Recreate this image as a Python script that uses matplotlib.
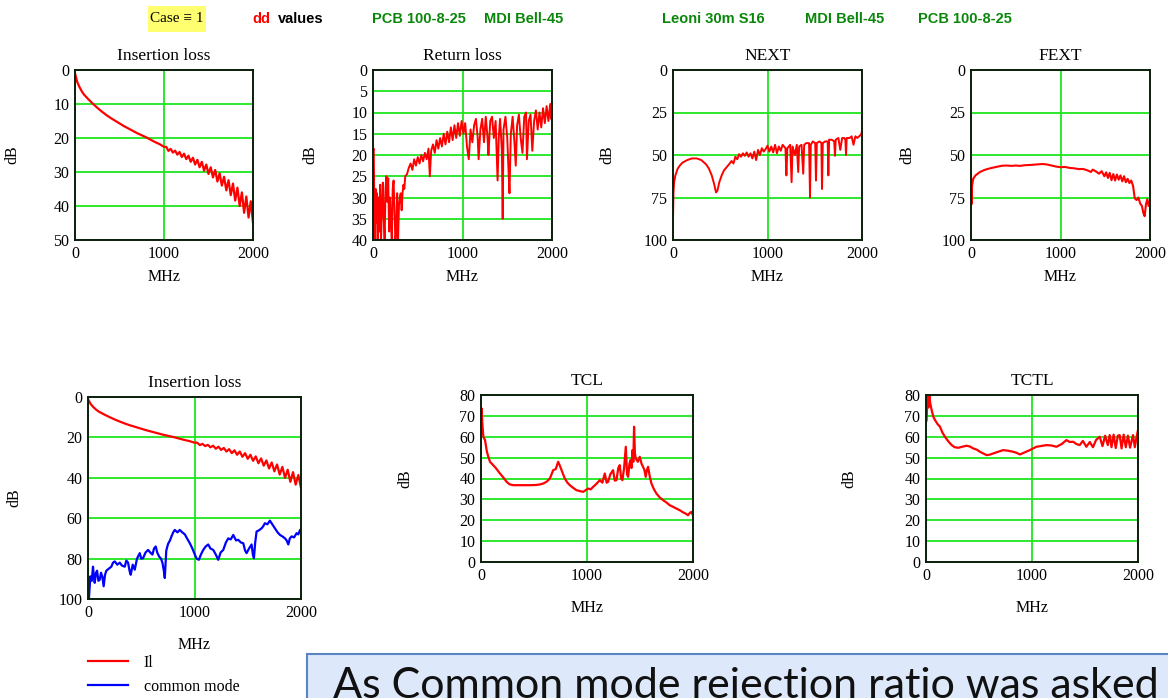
import matplotlib
matplotlib.use("Agg")
import matplotlib.pyplot as plt
from matplotlib.patches import Rectangle

plt.rcParams["font.family"] = ["Liberation Serif", "DejaVu Serif"]

# ---- data (MHz, dB) ----
il_mhz = [0, 25, 50, 75, 100, 150, 200, 250, 300, 350, 400, 450, 500, 550, 600, 650,
          700, 750, 800, 850, 900, 950, 1000,
          1025, 1050, 1075, 1100, 1125, 1150, 1175, 1200, 1225, 1250, 1275, 1300,
          1325, 1350, 1375, 1400, 1425, 1450, 1475, 1500, 1525, 1550, 1575, 1600,
          1625, 1650, 1675, 1700, 1725, 1750, 1775, 1800, 1825, 1850, 1875, 1900,
          1925, 1950, 1975, 2000]
il_db = [1.0, 3.5, 5.0, 6.2, 7.2, 8.6, 9.9, 11.1, 12.2, 13.2, 14.1, 14.9, 15.7, 16.5,
         17.2, 17.9, 18.6, 19.2, 19.8, 20.5, 21.2, 21.8, 22.6,
         22.6, 23.8, 23.2, 24.3, 23.7, 24.9, 24.1, 25.6, 24.6, 26.2, 25.2, 27.0,
         25.8, 27.8, 26.4, 28.6, 27.0, 29.6, 27.8, 30.6, 28.6, 31.6, 29.4, 32.8,
         30.4, 34.0, 31.4, 35.4, 32.4, 36.8, 33.4, 38.4, 34.6, 40.0, 36.0, 42.0,
         37.2, 43.4, 38.6, 45.0]

rl_mhz = [0, 8, 15, 22, 30, 38, 45, 52, 60, 70, 80, 90, 100, 110, 120, 130, 140, 150,
          160, 170, 180, 190, 200, 210, 220, 230, 240, 250, 260, 270, 280, 290, 300,
          310, 320, 330, 340, 350, 360, 380, 400, 420, 440, 460, 480, 500, 520, 540,
          560, 580, 600, 620, 635, 650, 670, 690, 710, 730, 750, 770, 790, 810, 830,
          850, 870, 890, 910, 930, 950, 970, 990, 1010, 1030, 1050, 1070, 1090, 1110,
          1130, 1150, 1170, 1180, 1200, 1220, 1240, 1260, 1280, 1290, 1310, 1330,
          1350, 1370, 1392, 1405, 1420, 1440, 1449, 1458, 1480, 1500, 1515, 1525,
          1540, 1560, 1580, 1595, 1610, 1630, 1650, 1670, 1690, 1710, 1720, 1740,
          1760, 1780, 1800, 1820, 1840, 1860, 1880, 1900, 1920, 1940, 1960, 1980,
          1990, 2000]
rl_db = [19, 18.5, 32, 40, 28, 36, 29, 40, 30, 38, 27, 40, 32, 26.5, 35, 40, 28, 25,
         31, 25.5, 38, 30, 36, 40, 28, 26, 33, 40, 38, 29, 40, 32, 30,
         29, 33, 29, 27, 28, 25, 24.5, 23, 22, 23.5, 21, 22.5, 20.5, 22, 20,
         21.5, 19.5, 21, 18.5, 25, 19, 17.5, 19.5, 16.5, 18.5, 16, 18, 15, 17.5, 14.5,
         17, 13.5, 16.5, 13, 16, 12.5, 15.5, 12, 15, 12.5, 18, 21, 14, 17,
         13, 11.5, 16, 21, 14, 11.5, 17, 11, 16, 20, 12, 11,
         16, 12, 26, 16, 11.5, 19, 35, 14, 11, 16, 24, 29,
         15, 11, 17, 22.5, 13, 10.5, 16, 19.5, 11, 10, 21, 12,
         10.5, 19, 12, 9.5, 14, 10, 13.5, 9, 12.5, 8.5, 12, 8,
         11.5, 7.5]

next_mhz = [0, 5, 12, 25, 50, 75, 100, 150, 200, 250, 300, 350, 380, 410, 435, 455,
            470, 490, 515, 540, 570, 600, 620, 640, 660, 680, 700, 720, 740, 760,
            780, 800, 820, 840, 860, 880, 900, 920, 940, 960, 980, 1000, 1020, 1040,
            1060, 1080, 1100, 1120, 1140, 1160, 1190, 1200, 1210, 1240, 1255, 1265,
            1290, 1310, 1325, 1335, 1360, 1378, 1388, 1410, 1440, 1450, 1458, 1480,
            1505, 1513, 1522, 1550, 1570, 1577, 1585, 1610, 1637, 1644, 1652, 1680,
            1706, 1714, 1722, 1750, 1770, 1790, 1810, 1824, 1831, 1838, 1870, 1890,
            1910, 1930, 1950, 1970, 1990, 2000]
next_db = [88, 72, 66, 62, 58, 56, 54.5, 53, 52, 52, 53, 55.5, 58, 62, 67, 72,
           71, 66, 62, 59, 57, 55, 53.5, 55, 51, 52.5, 49.5, 51, 49, 50.5,
           48.5, 51, 49, 52, 48, 53, 47, 50, 46, 48, 46.5, 44.5, 48, 45,
           48.5, 44, 49, 45, 47.5, 44, 46, 62, 46, 44, 66, 45,
           50, 44, 60, 45, 44, 61, 44, 43, 43, 75, 44, 42,
           43, 65, 43, 42, 43, 70, 43, 42, 42, 62, 41, 41,
           42, 50.5, 41, 40, 47, 40, 40, 41, 50, 40, 40, 39,
           44, 39, 40, 39, 38, 36]

fext_mhz = [0, 5, 12, 25, 50, 75, 100, 150, 200, 250, 300, 350, 400, 450, 500, 550,
            600, 650, 700, 750, 800, 850, 900, 950, 1000, 1050, 1100, 1150, 1200,
            1250, 1300, 1340, 1360, 1400, 1430, 1460, 1490, 1510, 1530, 1550, 1570,
            1590, 1610, 1630, 1650, 1670, 1690, 1710, 1730, 1750, 1770, 1790, 1810,
            1830, 1850, 1870, 1890, 1910, 1925, 1940, 1955, 1970, 1985, 2000]
fext_db = [62, 79, 68, 64, 62, 61, 60, 58.8, 58, 57.4, 56.8, 56.3, 56.2, 56.4, 56.2,
           56.4, 56.0, 55.9, 55.7, 55.5, 55.3, 55.6, 56.2, 56.8, 57.2, 57.0, 57.6,
           57.8, 58.3, 58.2, 59.0, 60.0, 58.6, 59.8, 61.0, 59.5, 62.5, 60.2, 63.5,
           60.5, 64.8, 61.2, 65.0, 61.5, 64.5, 62.0, 65.5, 62.5, 66.0, 64.0, 66.5,
           65.0, 68.0, 75.5, 76.5, 75.0, 78.5, 80.0, 84.0, 86.0, 79.0, 76.0, 80.0, 77.0]

cm_mhz = [0, 9, 22, 35, 47, 55, 63, 75, 85, 98, 110, 122, 135, 147, 160, 172, 195,
          219, 235, 251, 275, 298, 320, 345, 360, 376, 390, 401, 420, 439, 460, 486,
          500, 517, 540, 564, 585, 605, 620, 636, 650, 668, 685, 699, 712, 721, 735,
          752, 770, 784, 800, 815, 840, 862, 885, 909, 930, 956, 980, 1003, 1020,
          1041, 1060, 1082, 1105, 1129, 1150, 1176, 1200, 1223, 1245, 1270, 1295,
          1317, 1340, 1364, 1390, 1411, 1435, 1458, 1475, 1489, 1512, 1536, 1548,
          1558, 1570, 1583, 1605, 1630, 1645, 1661, 1685, 1708, 1730, 1755, 1780,
          1803, 1825, 1850, 1865, 1881, 1895, 1912, 1935, 1959, 1975, 1991, 2000]
cm_db = [97, 99.5, 88.8, 91, 84, 89, 92, 87, 86, 91, 90.5, 87, 89, 93.7, 88, 86, 85,
         84, 82, 81.4, 83, 82, 83.5, 84, 81, 82, 86, 88, 83, 85.5, 80, 77.3,
         80, 79.8, 77, 75.7, 77, 78, 75, 74, 77, 79, 80, 82, 86, 89.6, 76,
         72.7, 71, 69, 67, 65.8, 67, 65.8, 67, 68, 70, 72.4, 75, 78, 80,
         80.6, 78, 75.7, 74, 73, 75, 75.7, 78, 80.6, 77, 75.7, 72,
         70, 70.5, 68.3, 71, 70.7, 72, 72.4, 76, 77.3, 75, 73, 78,
         79.8, 72, 66.6, 66, 65, 64, 62.5, 63, 61.2, 63, 65, 67,
         68.3, 69, 70, 71, 73, 70, 69, 69.5, 67.4, 68, 65.8, 67]

tcl_mhz = [0, 5, 13, 22, 38, 55, 69, 85, 100, 140, 179, 210, 242, 270, 305, 360, 400,
           462, 520, 560, 587, 620, 650, 681, 705, 728, 745, 760, 775, 791, 815, 838,
           870, 901, 930, 964, 990, 1011, 1035, 1058, 1090, 1121, 1145, 1168, 1185,
           1199, 1220, 1246, 1262, 1278, 1295, 1309, 1322, 1334, 1350, 1366, 1378,
           1388, 1400, 1410, 1420, 1429, 1437, 1444, 1452, 1460, 1480, 1498, 1515,
           1529, 1542, 1554, 1565, 1576, 1592, 1608, 1630, 1655, 1685, 1718, 1750,
           1780, 1810, 1843, 1875, 1906, 1930, 1953, 1970, 1984, 2000]
tcl_db = [64, 73.6, 66, 60, 58.4, 53, 50.4, 48, 47.2, 45, 42.4, 40.5, 38.4, 37.2, 36.8,
          36.8, 36.8, 36.8, 36.9, 37.2, 37.6, 38.5, 40, 44, 44.5, 48, 46, 44, 42,
          40, 38, 36.8, 35.5, 34.4, 34, 33.6, 34.5, 35.2, 34.8, 36, 37.5, 39.2,
          38, 42.4, 38, 38.4, 42, 44, 39, 39.2, 45, 46.4, 40, 39.2, 45, 55.2,
          42, 40.8, 47, 48.8, 45, 53.6, 48, 64.8, 52, 49.6, 48, 50.4, 47, 45.6,
          44, 40.8, 44, 45.6, 41, 37.6, 35, 32.8, 31, 29.6, 28.5, 27.2, 26.5, 25.6,
          24.8, 23.8, 23.2, 22.4, 23.5, 24, 22.4]

tctl_mhz = [0, 6, 13, 22, 31, 40, 53, 70, 85, 110, 132, 155, 179, 210, 242, 270, 305,
            340, 383, 415, 446, 480, 509, 540, 572, 600, 634, 680, 728, 775, 823, 855,
            886, 930, 980, 1010, 1042, 1090, 1137, 1185, 1231, 1280, 1325, 1355,
            1388, 1420, 1450, 1480, 1513, 1545, 1575, 1605, 1639, 1665, 1690, 1715,
            1733, 1750, 1770, 1790, 1810, 1827, 1845, 1865, 1885, 1905, 1925, 1953,
            1970, 1985, 2000]
tctl_db = [67, 68, 80, 74, 80, 76, 72.8, 69.5, 68, 66, 64.8, 62, 60, 57.8, 56, 55,
           54.7, 55.2, 55.7, 55.3, 54.4, 53.8, 52.8, 52, 51.2, 51.4, 52, 52.8, 53.6,
           53.3, 52.8, 52.3, 51.5, 52.5, 53.6, 54.4, 55.2, 55.6, 56, 55.8, 55.2,
           56.5, 58.4, 57.5, 57.6, 56.5, 56, 58, 55.2, 57.5, 55, 58.5, 60, 55.5,
           60.5, 56, 60.8, 55, 61, 54.6, 60.5, 60.8, 54.4, 61, 55, 60.5, 54.8,
           60.8, 55, 59.5, 63.2]

titles = ["Insertion loss", "Return loss", "NEXT", "FEXT",
          "Insertion loss", "TCL", "TCTL"]
header_labels = ["PCB 100-8-25", "MDI Bell-45", "Leoni 30m S16", "MDI Bell-45",
                 "PCB 100-8-25"]
legend_labels = ["Il", "common mode"]

W, H = 1168, 698
GRID = "#1ee61e"
RED = "#ff0000"
BLUE = "#0000ff"
FS = 11.5

fig = plt.figure(figsize=(W / 100, H / 100), dpi=100)


def px_axes(x0, y0, x1, y1):
    return fig.add_axes([x0 / W, 1 - y1 / H, (x1 - x0) / W, (y1 - y0) / H])


def style(ax, title, ylim, yticks, box, ylab_off, xlab_off):
    x0, y0, x1, y1 = box
    ax.set_xlim(0, 2000)
    ax.set_xticks([0, 1000, 2000])
    ax.set_ylim(*ylim)
    ax.set_yticks(yticks)
    ax.grid(True, color=GRID, lw=1.3)
    ax.set_axisbelow(True)
    ax.tick_params(length=0, pad=4, labelsize=FS)
    ax.set_title(title, fontsize=12.5, pad=7)
    ax.set_xlabel("MHz", fontsize=FS)
    ax.set_ylabel("dB", fontsize=FS)
    ax.yaxis.set_label_coords(-ylab_off / (x1 - x0), 0.5)
    ax.xaxis.set_label_coords(0.5, -xlab_off / (y1 - y0))
    for s in ax.spines.values():
        s.set_linewidth(1.4)
        s.set_color("#0b1e0b")


boxes = [(75, 70, 253, 240), (373, 70, 552, 240), (673, 70, 862, 240),
         (971, 70, 1150, 240), (88, 397, 301, 599), (481, 395, 693, 562),
         (926, 395, 1138, 562)]
axs = [px_axes(*b) for b in boxes]

ax = axs[0]
ax.plot(il_mhz, il_db, color=RED, lw=1.6)
style(ax, titles[0], (50, 0), range(0, 51, 10), boxes[0], 55, 29)

ax = axs[1]
ax.plot(rl_mhz, rl_db, color=RED, lw=1.4)
style(ax, titles[1], (40, 0), range(0, 41, 5), boxes[1], 55, 29)

ax = axs[2]
ax.plot(next_mhz, next_db, color=RED, lw=1.4)
style(ax, titles[2], (100, 0), range(0, 101, 25), boxes[2], 58, 29)

ax = axs[3]
ax.plot(fext_mhz, fext_db, color=RED, lw=1.5)
style(ax, titles[3], (100, 0), range(0, 101, 25), boxes[3], 56, 29)

ax = axs[4]
l1, = ax.plot(il_mhz, il_db, color=RED, lw=1.6)
l2, = ax.plot(cm_mhz, cm_db, color=BLUE, lw=1.6)
style(ax, titles[4], (100, 0), range(0, 101, 20), boxes[4], 66, 38)
ax.legend([l1, l2], legend_labels, loc="upper left", bbox_to_anchor=(88 / W, 1 - 655 / H),
          bbox_transform=fig.transFigure, frameon=False, fontsize=FS,
          handlelength=2.5, handletextpad=1.0, labelspacing=0.5,
          borderpad=0, borderaxespad=0)

ax = axs[5]
ax.plot(tcl_mhz, tcl_db, color=RED, lw=1.6)
style(ax, titles[5], (0, 80), range(0, 81, 10), boxes[5], 68, 38)

ax = axs[6]
ax.plot(tctl_mhz, tctl_db, color=RED, lw=1.6)
style(ax, titles[6], (0, 80), range(0, 81, 10), boxes[6], 69, 38)

# header line
fig.patches.append(Rectangle((148 / W, 1 - 32 / H), 58 / W, 26 / H,
                             transform=fig.transFigure, facecolor="#ffff70",
                             edgecolor="none"))
fig.text(177 / W, 1 - 19 / H, "Case \u2261 1", ha="center", va="center", fontsize=11)
sans = ["Liberation Sans", "DejaVu Sans"]
fig.text(252 / W, 1 - 19 / H, "dd", color=RED, fontweight="bold", va="center",
         fontsize=10.5, family=sans)
fig.text(278 / W, 1 - 19 / H, "values", color="black", fontweight="bold", va="center",
         fontsize=10.5, family=sans)
for x, lab in zip([372, 484, 662, 805, 918], header_labels):
    fig.text(x / W, 1 - 19 / H, lab, color="#0a870a", fontweight="bold", va="center",
             fontsize=10.5, family=sans)

# callout box at the bottom
fig.patches.append(Rectangle((307 / W, -0.05), (W - 300) / W, 0.05 + 44 / H,
                             transform=fig.transFigure, facecolor="#dde8fa",
                             edgecolor="#5b84c4", lw=1.5))
fig.text(333 / W, 1 - 698 / H, "As Common mode rejection ratio was asked",
         fontsize=31, family=["Lato", "DejaVu Sans"], va="baseline", color="#111111")

fig.savefig("out.png", dpi=100)
